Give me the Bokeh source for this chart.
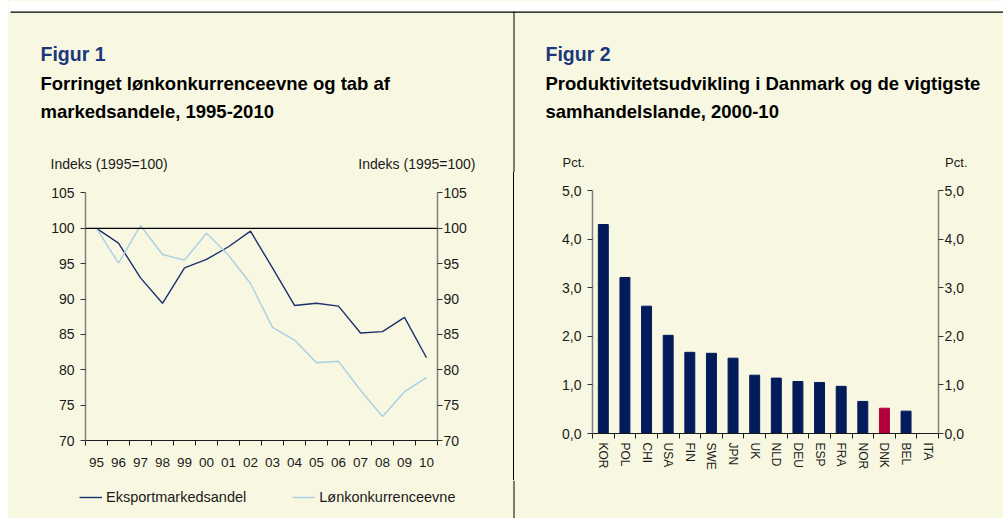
from bokeh.plotting import figure
from bokeh.models import (Range1d, LinearAxis, FixedTicker, Span, Label, Legend,
                          LegendItem, ColumnDataSource, Spacer, BoxAnnotation)
from bokeh.layouts import row, column
from bokeh.embed import file_html
from bokeh.resources import INLINE

# ---------------- data ----------------
years = ["95", "96", "97", "98", "99", "00", "01", "02",
         "03", "04", "05", "06", "07", "08", "09", "10"]
eksport = [100.0, 97.9, 93.0, 89.4, 94.4, 95.6, 97.4, 99.6,
           94.4, 89.1, 89.4, 89.0, 85.2, 85.4, 87.4, 81.7]
loen = [100.0, 95.1, 100.4, 96.3, 95.5, 99.3, 96.2, 92.2,
        86.0, 84.2, 81.0, 81.2, 77.1, 73.4, 76.9, 78.9]
y1_ticks = [70, 75, 80, 85, 90, 95, 100, 105]
series_names = ["Eksportmarkedsandel", "Lønkonkurrenceevne"]

countries = ["KOR", "POL", "CHI", "USA", "FIN", "SWE", "JPN", "UK",
             "NLD", "DEU", "ESP", "FRA", "NOR", "DNK", "BEL", "ITA"]
growth = [4.30, 3.21, 2.62, 2.02, 1.67, 1.65, 1.55, 1.20,
          1.14, 1.07, 1.05, 0.97, 0.66, 0.52, 0.46, 0.0]
y2_ticks = [0, 1, 2, 3, 4, 5]
y2_labels = ["0,0", "1,0", "2,0", "3,0", "4,0", "5,0"]

# ---------------- style ----------------
BG = "#F8F8E2"
FONT = "Liberation Sans"
NAVY_TXT = "#1A377A"
DARK = "#1C2F6E"
LIGHT = "#A8CFE4"
BAR = "#031B5B"
BAR_DK = "#B3003C"
AX_GRAY = "#808080"
TXT = "#1a1a1a"

W_ALL, W1, W2 = 995, 505, 489
HEAD_H, MID_H, FOOT_H = 172, 308, 38
P1_H, P2_H = 306, 301


def base_fig(width, height, xr, yr, mbl, mbr, mbt, mbb):
    p = figure(width=width, height=height, x_range=xr, y_range=yr, title=None,
               output_backend="svg", toolbar_location=None,
               background_fill_color=BG, border_fill_color=BG,
               outline_line_color=None,
               min_border_left=mbl, min_border_right=mbr,
               min_border_top=mbt, min_border_bottom=mbb)
    p.grid.visible = False
    return p


def strip_fig(width, height, x0, y0):
    p = figure(width=width, height=height, x_range=Range1d(x0, x0 + width),
               y_range=Range1d(y0 + height, y0), title=None,
               output_backend="svg", toolbar_location=None,
               x_axis_type=None, y_axis_type=None, min_border=0,
               background_fill_color=BG, border_fill_color=BG, outline_line_color=None)
    p.grid.visible = False
    return p


def style_y(ax, ticks, bounds, standoff, overrides=None):
    ax.ticker = FixedTicker(ticks=ticks)
    ax.bounds = bounds
    ax.major_tick_out = 5
    ax.major_tick_in = 0
    ax.minor_tick_out = 0
    ax.minor_tick_in = 0
    ax.axis_line_color = AX_GRAY
    ax.axis_line_width = 1.5
    ax.major_tick_line_color = "#333333"
    ax.major_label_text_font = FONT
    ax.major_label_text_font_size = "14px"
    ax.major_label_text_color = TXT
    ax.major_label_standoff = standoff
    if overrides:
        ax.major_label_overrides = overrides


def style_x(ax, n, labels, font_size):
    ax.ticker = FixedTicker(ticks=list(range(n)),
                            minor_ticks=[i - 0.5 for i in range(n + 1)])
    ax.major_label_overrides = {i: lab for i, lab in enumerate(labels)}
    ax.major_tick_out = 0
    ax.major_tick_in = 0
    ax.minor_tick_out = 5
    ax.minor_tick_in = 0
    ax.minor_tick_line_color = TXT
    ax.axis_line_color = TXT
    ax.axis_line_width = 1.2
    ax.major_label_text_font = FONT
    ax.major_label_text_font_size = font_size
    ax.major_label_text_color = TXT


def box(p, left, right, top, bottom, color="#000000"):
    p.add_layout(BoxAnnotation(left=left, right=right, top=top, bottom=bottom,
                               fill_color=color, fill_alpha=1, line_color=None))


def add_text(p, x, y, text, size, color="#000000", bold=False, align="left"):
    p.add_layout(Label(x=x, y=y, text=text, text_font=FONT, text_font_size=size,
                       text_color=color, text_font_style="bold" if bold else "normal",
                       text_align=align, text_baseline="alphabetic"))


SEP_X = 8 + W1  # page x of the vertical divider

# ================= header strip (titles) =================
head = strip_fig(W_ALL, HEAD_H, 8, 0)
box(head, 8, 8 + W_ALL, 0, 11, "#ffffff")
box(head, 10, 8 + W_ALL, 11, 12.3)
box(head, SEP_X, SEP_X + 1, 11, HEAD_H)

add_text(head, 40, 53.7, "Figur 1", "19.5px", NAVY_TXT, bold=True)
add_text(head, 40, 82.7, "Forringet lønkonkurrenceevne og tab af", "18.5px", bold=True)
add_text(head, 40, 110.7, "markedsandele, 1995-2010", "18.5px", bold=True)
add_text(head, 50, 163, "Indeks (1995=100)", "14px", TXT)
add_text(head, 475, 163, "Indeks (1995=100)", "14px", TXT, align="right")

add_text(head, 545, 53.7, "Figur 2", "19.5px", NAVY_TXT, bold=True)
add_text(head, 545, 82.7, "Produktivitetsudvikling i Danmark og de vigtigste", "18.5px", bold=True)
add_text(head, 545, 110.7, "samhandelslande, 2000-10", "18.5px", bold=True)
add_text(head, 562, 161.5, "Pct.", "13px", TXT)
add_text(head, 967, 161.5, "Pct.", "13px", TXT, align="right")

# ================= Figur 1: line chart =================
n1 = len(years)
p1 = base_fig(W1, P1_H, Range1d(-0.5, n1 - 0.5), Range1d(70, 105.07), 77, 76, 18, 40)
style_x(p1.xaxis[0], n1, years, "13.5px")
p1.xaxis[0].major_label_standoff = 12
style_y(p1.yaxis[0], y1_ticks, (70, 105), 6)
r_ax = LinearAxis()
style_y(r_ax, y1_ticks, (70, 105), 1)
p1.add_layout(r_ax, "right")

p1.add_layout(Span(location=100, dimension="width", line_color="#000000", line_width=1.2))

src1 = ColumnDataSource(dict(x=list(range(n1)), eks=eksport, lon=loen))
p1.line("x", "eks", source=src1, line_color=DARK, line_width=1.4)
p1.line("x", "lon", source=src1, line_color=LIGHT, line_width=1.4)

# ================= Figur 2: bar chart =================
n2 = len(countries)
p2 = base_fig(W2, P2_H, Range1d(-0.5, n2 - 0.5), Range1d(0, 5), 78, 65, 18, 40)
style_x(p2.xaxis[0], n2, countries, "12px")
p2.xaxis[0].major_label_orientation = "vertical"
p2.xaxis[0].major_label_standoff = 4
ov2 = {t: l for t, l in zip(y2_ticks, y2_labels)}
style_y(p2.yaxis[0], y2_ticks, (0, 5), 6, ov2)
r_ax2 = LinearAxis()
style_y(r_ax2, y2_ticks, (0, 5), 1, ov2)
p2.add_layout(r_ax2, "right")

bar_colors = [BAR_DK if c == "DNK" else BAR for c in countries]
src2 = ColumnDataSource(dict(x=list(range(n2)), top=growth, color=bar_colors))
p2.vbar(x="x", top="top", width=0.46, bottom=0, color="color", source=src2)

# ================= footer strip (legend of Figur 1) =================
foot = strip_fig(W_ALL, FOOT_H, 8, HEAD_H + MID_H)
box(foot, SEP_X, SEP_X + 1, HEAD_H + MID_H, HEAD_H + MID_H + FOOT_H)
proxy = ColumnDataSource(dict(x=[0], y=[eksport[0]]))  # one point: draws nothing itself
l_eks = foot.line("x", "y", source=proxy, line_color=DARK, line_width=1.4)
l_lon = foot.line("x", "y", source=proxy, line_color=LIGHT, line_width=1.4)
legend = Legend(items=[LegendItem(label=series_names[0], renderers=[l_eks]),
                       LegendItem(label=series_names[1], renderers=[l_lon])],
                orientation="horizontal", location=(71, 13),
                glyph_width=23, glyph_height=14, label_standoff=4, spacing=46,
                padding=0, margin=0, border_line_color=None, background_fill_alpha=0,
                label_text_font=FONT, label_text_font_size="14.5px",
                label_text_color=TXT)
foot.add_layout(legend)

# ================= layout =================
bg = {"background-color": BG}
c1 = column(Spacer(width=W1, height=MID_H - P1_H, styles=bg), p1, spacing=0, styles=bg)
c2 = column(p2, Spacer(width=W2, height=MID_H - P2_H, styles=bg), spacing=0, styles=bg)
sep = Spacer(width=1, height=MID_H, styles={"background-color": "#000000"})
mid = row(c1, sep, c2, spacing=0, styles=bg)
body = column(head, mid, foot, spacing=0, styles=bg)
layout = row(Spacer(width=8, height=HEAD_H + MID_H + FOOT_H), body, spacing=0)

open("out.html", "w").write(file_html(layout, INLINE))
